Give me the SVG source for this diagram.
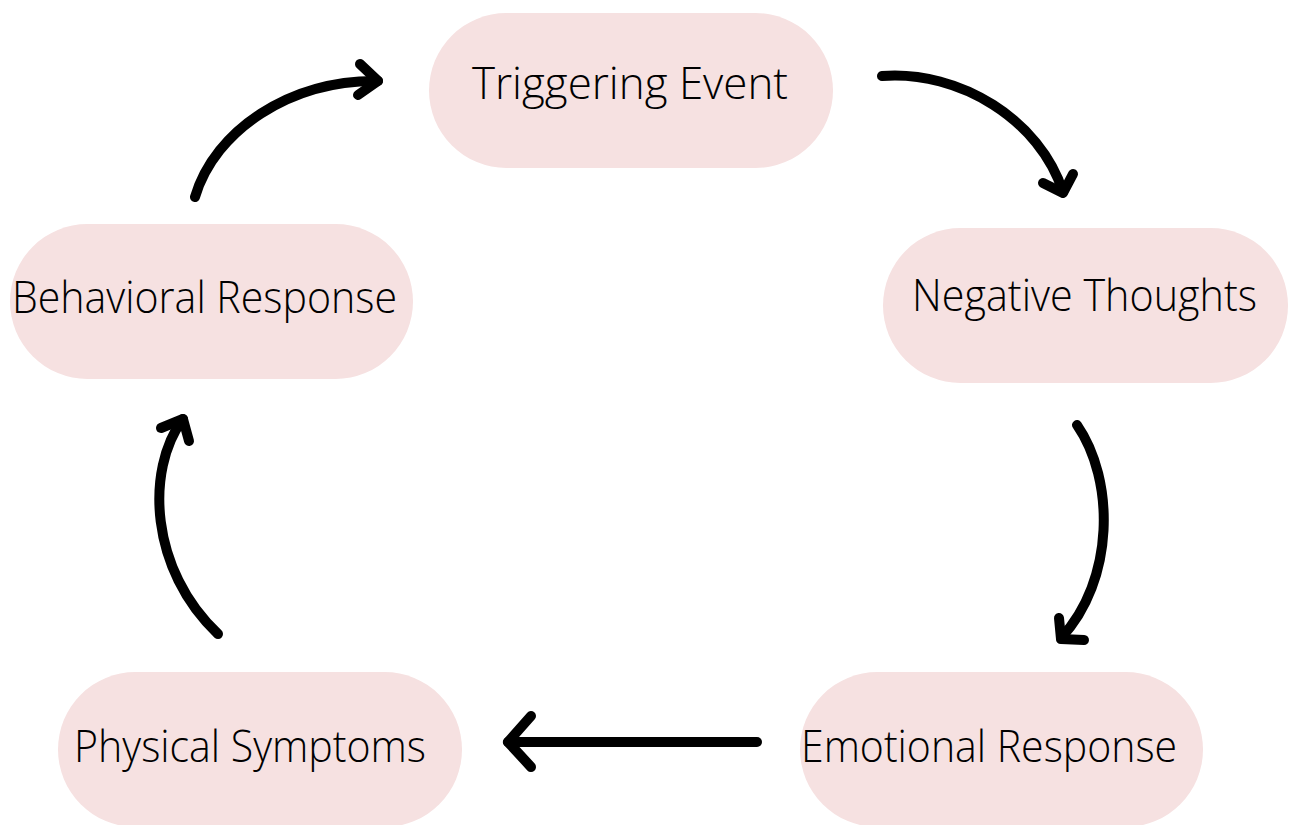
<svg xmlns="http://www.w3.org/2000/svg" width="1290" height="825" viewBox="0 0 1290 825">
<style>
.pill{fill:#f6e1e1;}
.lbl{font-family:"Open Sans","Liberation Sans",sans-serif;font-weight:300;font-size:44px;fill:#000;}
.arr{fill:none;stroke:#000;stroke-width:10;stroke-linecap:round;stroke-linejoin:round;}
</style>
<rect width="1290" height="825" fill="#fff"/>
<g id="triggering-event">
<rect class="pill" x="429" y="13" width="404" height="155" rx="77.5"/>
<text class="lbl" x="472" y="99" textLength="316" lengthAdjust="spacingAndGlyphs">Triggering Event</text>
</g>
<g id="negative-thoughts">
<rect class="pill" x="883" y="228" width="405" height="155" rx="77.5"/>
<text class="lbl" x="912" y="311" textLength="345" lengthAdjust="spacingAndGlyphs">Negative Thoughts</text>
</g>
<g id="emotional-response">
<rect class="pill" x="800" y="672" width="403" height="155" rx="77.5"/>
<text class="lbl" x="801" y="762" textLength="376" lengthAdjust="spacingAndGlyphs">Emotional Response</text>
</g>
<g id="physical-symptoms">
<rect class="pill" x="58" y="672" width="404" height="155" rx="77.5"/>
<text class="lbl" x="74" y="762" textLength="352" lengthAdjust="spacingAndGlyphs">Physical Symptoms</text>
</g>
<g id="behavioral-response">
<rect class="pill" x="10" y="224" width="403" height="155" rx="77.5"/>
<text class="lbl" x="12" y="313" textLength="385" lengthAdjust="spacingAndGlyphs">Behavioral Response</text>
</g>
<g id="connectors">
<path class="arr" d="M195,197 C215,130 290,80 378,81"/>
<path class="arr" d="M360,64 L378,81 L358,95"/>
<path class="arr" d="M882,76 C960,70 1040,120 1063,192"/>
<path class="arr" d="M1043,183 L1063,193 L1073,174"/>
<path class="arr" d="M1077,425 C1115,480 1115,580 1061,638"/>
<path class="arr" d="M1059,618 L1061,639 L1084,640"/>
<path class="arr" d="M218,634 C150,570 145,470 183,419"/>
<path class="arr" d="M161,428 L183,419 L189,441"/>
<path class="arr" d="M757,742 L508,742"/>
<path class="arr" d="M531,716 L508,742 L531,767"/>
</g>
</svg>
